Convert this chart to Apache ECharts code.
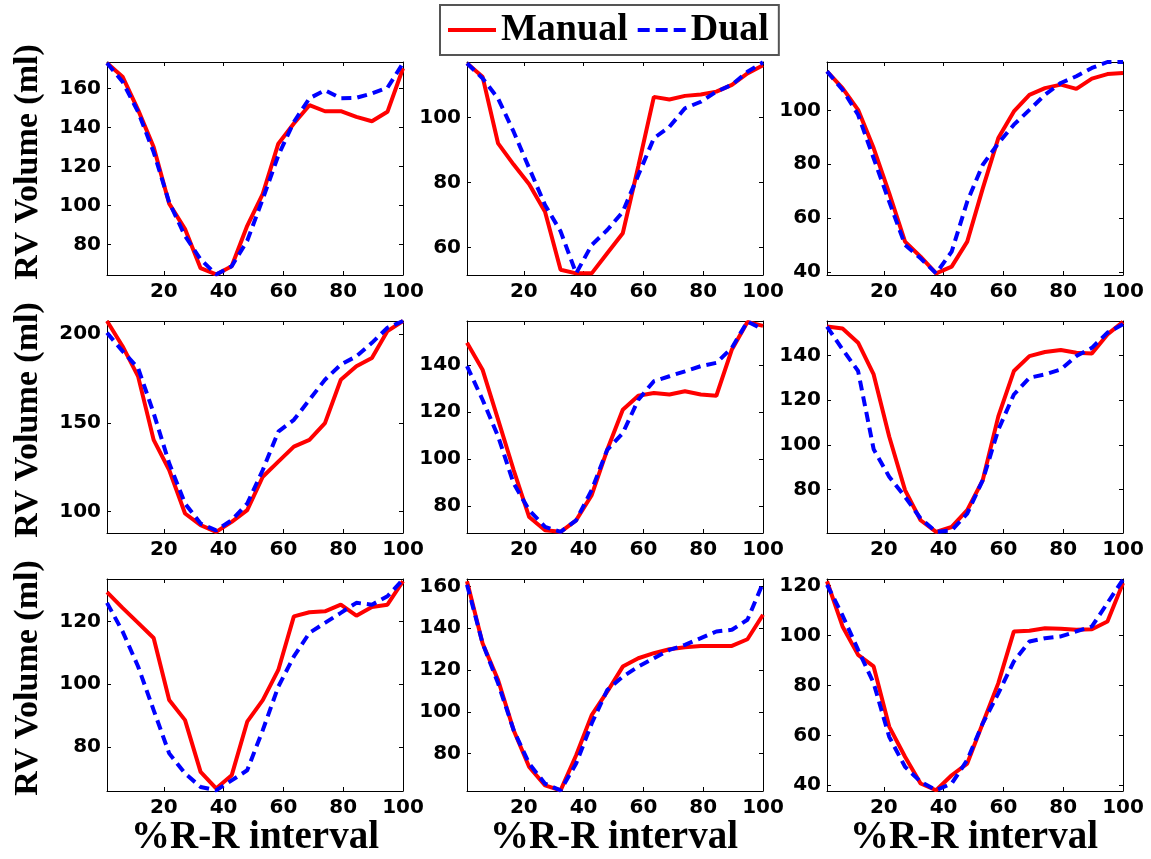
<!DOCTYPE html>
<html>
<head>
<meta charset="utf-8">
<script src="https://cdn.jsdelivr.net/npm/echarts@6/dist/echarts.min.js"></script>
<style>
html,body{margin:0;padding:0;background:#fff;}
#chart{width:1151px;height:859px;}
</style>
</head>
<body>
<div id="chart"></div>
<script>
// %R-R interval sample positions (20 frames over 1..100)
const xPct = [1, 6.2, 11.4, 16.6, 21.8, 27.1, 32.3, 37.5, 42.7, 47.9, 53.1, 58.3, 63.5, 68.7, 73.9, 79.2, 84.4, 89.6, 94.8, 100];
const xTicks = [20, 40, 60, 80, 100];

const manual1 = [173, 166, 149, 130, 101, 88, 68, 64.8, 69, 89.7, 106, 131.7, 142, 151.4, 148.3, 148.3, 145.4, 143.2, 148, 170.3];
const dual1   = [173, 163.4, 148, 127.4, 101.7, 84.5, 72.5, 64.8, 69, 82, 103.4, 125.7, 142.8, 154.9, 159, 155, 155.2, 157.4, 160.3, 172.9];
const manual2 = [116.6, 112.5, 92, 85.5, 79.5, 71, 53.2, 52.1, 52.1, 58.3, 64.4, 85, 106.3, 105.5, 106.6, 107, 107.9, 110, 113.5, 116];
const dual2   = [116.6, 112, 105.8, 95.6, 84.4, 73.1, 65, 52.1, 60.8, 65.4, 71, 82.3, 93.6, 97.1, 102.8, 104.8, 107.9, 110, 114, 116.9];
const manual3 = [114.5, 108.3, 100.2, 86, 69.2, 51.2, 45.6, 39.4, 41.9, 51.2, 71, 89.7, 99.6, 105.8, 108.3, 109.6, 108, 111.8, 113.5, 113.9];
const dual3   = [114.5, 107.7, 98.4, 82.2, 66.1, 50, 45, 39.4, 47.5, 66.1, 79.8, 87.8, 94.7, 100.2, 105.8, 110.2, 112.7, 115.8, 118, 118];
const manual4 = [207.4, 193.2, 176.2, 140.4, 123.4, 98.9, 92.3, 88.5, 94.2, 100.8, 119.6, 128.1, 136.6, 140.4, 149.8, 174.3, 181.9, 186.6, 201.7, 207.4];
const dual4   = [200.8, 190.4, 180.9, 155.5, 127.2, 104.5, 93.2, 89.4, 95.1, 104.5, 123.4, 145, 151.7, 163, 174.3, 182.8, 187.5, 195.1, 203.6, 207.4];
const manual5 = [149.5, 138.1, 116.8, 95.4, 75.4, 69.8, 69.1, 74, 84.7, 104, 121, 127, 128.2, 127.5, 128.9, 127.5, 127, 146.7, 158.4, 156.7];
const dual5   = [139.6, 125.3, 109.7, 89.7, 78.3, 71.2, 69.1, 74, 86.9, 104, 111.1, 125.3, 133.2, 135.3, 137.4, 139.6, 141, 147.4, 158.6, 155.2];
const manual6 = [152.9, 152, 145.7, 131.5, 103.7, 79.7, 66.2, 61, 63.2, 70.7, 84.2, 112.7, 133, 139.7, 141.5, 142.4, 141.2, 140.9, 149.4, 155];
const dual6   = [152.9, 142.7, 133, 98, 85.7, 76.7, 67, 61, 61.7, 69.2, 84.2, 106.7, 122.5, 130, 131.5, 133.7, 139.7, 143.4, 150.2, 153.9];
const manual7 = [129.3, 124.3, 119.5, 114.7, 94.9, 88.5, 72, 66.7, 70.9, 88, 94.9, 104.5, 121.6, 122.9, 123.2, 125.3, 121.8, 124.6, 125.3, 132.8];
const dual7   = [125.9, 116.8, 105.6, 91.7, 77.9, 71.5, 67.2, 66.1, 69.3, 72.5, 85.3, 99.2, 108.8, 116.3, 119.5, 122.7, 125.9, 125.3, 128, 133.3];
const manual8 = [162.4, 132.8, 115.2, 91.2, 73.6, 64.8, 62.4, 79.2, 98.4, 109.6, 121.6, 125.6, 128, 129.9, 130.9, 131.5, 131.5, 131.5, 134.7, 146.4];
const dual8   = [160.8, 132.8, 113.6, 91.2, 75.2, 65.6, 62.4, 75.2, 94.4, 110.4, 116.8, 121.6, 125.6, 129.6, 132, 135.2, 138.4, 139.2, 144, 161.6];
const manual9 = [121.7, 103.6, 92.2, 87.6, 63.5, 51.4, 40.7, 38, 44, 48.7, 64.8, 80.9, 101.6, 101.9, 102.9, 102.7, 102.3, 102.5, 105.6, 121];
const dual9   = [120.3, 108, 94.2, 80.9, 59.4, 47.4, 41.4, 38, 40.7, 50.1, 64.8, 76.8, 89.6, 97.6, 98.9, 99.6, 101.6, 103.6, 113, 122.4];

const yMins = [64.5, 51.6, 38.8, 87.9, 68.6, 60.5, 65.9, 62.1, 37.7];
const yMaxs = [173.5, 117, 118, 207.4, 158.8, 155.4, 133.5, 163.5, 122.6];
const yTicks1 = [80, 100, 120, 140, 160];
const yTicks2 = [60, 80, 100];
const yTicks3 = [40, 60, 80, 100];
const yTicks4 = [100, 150, 200];
const yTicks5 = [80, 100, 120, 140];
const yTicks6 = [80, 100, 120, 140];
const yTicks7 = [80, 100, 120];
const yTicks8 = [80, 100, 120, 140, 160];
const yTicks9 = [40, 60, 80, 100, 120];

const manuals = [manual1, manual2, manual3, manual4, manual5, manual6, manual7, manual8, manual9];
const duals = [dual1, dual2, dual3, dual4, dual5, dual6, dual7, dual8, dual9];
const yTicks = [yTicks1, yTicks2, yTicks3, yTicks4, yTicks5, yTicks6, yTicks7, yTicks8, yTicks9];

const yTitle = 'RV Volume (ml)';
const xTitle = '%R-R interval';
const legendNames = ['Manual', 'Dual'];

// layout
const colLeft = [107, 467, 827];
const plotW = 296;
const rowTop = [62, 321, 579];
const plotH = [213, 212, 212];

const tickFont = {fontFamily: 'DejaVu Sans', fontWeight: 'bold', fontSize: 20, color: '#000'};

const grids = [], xAxes = [], yAxes = [], series = [], graphics = [];
for (let p = 0; p < 9; p++) {
  const r = Math.floor(p / 3), c = p % 3;
  grids.push({left: colLeft[c], top: rowTop[r], width: plotW, height: plotH[r], containLabel: false});
  const baseAxis = {
    gridIndex: p, type: 'value',
    axisLine: {show: true, onZero: false, lineStyle: {color: '#000', width: 1}},
    splitLine: {show: false}
  };
  xAxes.push(Object.assign({}, baseAxis, {
    position: 'bottom', min: 1, max: 100,
    axisTick: {show: true, inside: true, length: 4, customValues: xTicks, lineStyle: {color: '#000'}},
    axisLabel: Object.assign({show: true, margin: 7, customValues: xTicks}, tickFont)
  }));
  xAxes.push(Object.assign({}, baseAxis, {
    position: 'top', min: 1, max: 100,
    axisTick: {show: true, inside: true, length: 4, customValues: xTicks, lineStyle: {color: '#000'}},
    axisLabel: {show: false}
  }));
  yAxes.push(Object.assign({}, baseAxis, {
    position: 'left', min: yMins[p], max: yMaxs[p],
    axisTick: {show: true, inside: true, length: 4, customValues: yTicks[p], lineStyle: {color: '#000'}},
    axisLabel: Object.assign({show: true, margin: 6, customValues: yTicks[p]}, tickFont)
  }));
  yAxes.push(Object.assign({}, baseAxis, {
    position: 'right', min: yMins[p], max: yMaxs[p],
    axisTick: {show: true, inside: true, length: 4, customValues: yTicks[p], lineStyle: {color: '#000'}},
    axisLabel: {show: false}
  }));
  series.push({
    name: legendNames[0], type: 'line', xAxisIndex: 2 * p, yAxisIndex: 2 * p,
    data: xPct.map((x, i) => [x, manuals[p][i]]),
    symbol: 'none', lineStyle: {color: '#ff0000', width: 4}, itemStyle: {color: '#ff0000'}, z: 2
  });
  series.push({
    name: legendNames[1], type: 'line', xAxisIndex: 2 * p, yAxisIndex: 2 * p,
    data: xPct.map((x, i) => [x, duals[p][i]]),
    symbol: 'none', lineStyle: {color: '#0000ff', width: 4, type: [10, 6]}, itemStyle: {color: '#0000ff'}, z: 3
  });
}

const rowLabelY = [162, 420, 678];
rowLabelY.forEach(y => graphics.push({
  type: 'text', x: 28, y: y, rotation: Math.PI / 2,
  style: {text: yTitle, font: 'bold 34px "Liberation Serif"', fill: '#000', textAlign: 'center', textVerticalAlign: 'middle'}
}));
const colLabelX = [255, 614, 974];
colLabelX.forEach(x => graphics.push({
  type: 'text', x: x, y: 838,
  style: {text: xTitle, font: 'bold 39px "Liberation Serif"', fill: '#000', textAlign: 'center', textVerticalAlign: 'middle'}
}));

const chart = echarts.init(document.getElementById('chart'), null, {renderer: 'canvas'});
chart.setOption({
  animation: false,
  backgroundColor: '#fff',
  legend: {
    data: [
      {name: legendNames[0], icon: 'path://M0,0H48V4H0Z'},
      {name: legendNames[1], icon: 'path://M0,0H12V4H0ZM18,0H30V4H18ZM36,0H48V4H36Z'}
    ],
    left: 440, top: 5,
    padding: [6, 10, 6, 8],
    itemGap: 10, itemWidth: 48, itemHeight: 4,
    backgroundColor: '#fff', borderColor: '#555', borderWidth: 2,
    textStyle: {fontFamily: 'Liberation Serif', fontWeight: 'bold', fontSize: 38, color: '#000', lineHeight: 38}
  },
  grid: grids,
  xAxis: xAxes,
  yAxis: yAxes,
  series: series,
  graphic: graphics
});
</script>
</body>
</html>
